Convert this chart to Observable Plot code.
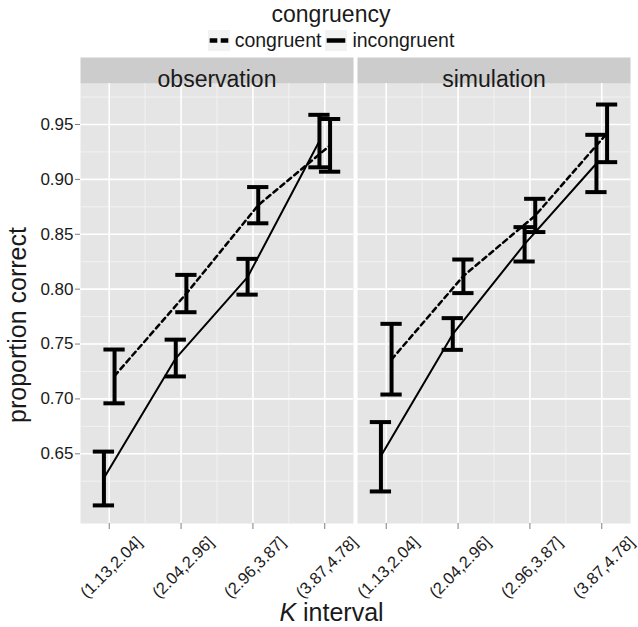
<!DOCTYPE html>
<html>
<head>
<meta charset="utf-8">
<script src="https://cdn.jsdelivr.net/npm/d3@7"></script>
<script src="https://cdn.jsdelivr.net/npm/@observablehq/plot@0.6"></script>
<style>
  html, body { margin: 0; padding: 0; background: white; }
  body { width: 638px; font-family: 'Liberation Sans', Arial, sans-serif; color: #1a1a1a; }
  #legend { position: relative; width: 638px; height: 50px; }
  #legend .title { position: absolute; left: 0; width: 662px; top: 2px; text-align: center; font-size: 23px; line-height: 24px; }
  #legend .row { position: absolute; left: 0; width: 662px; top: 29px; height: 22px; display: flex; justify-content: center; align-items: center; font-size: 19.5px; }
  #legend .row svg { display: block; }
  #chart svg { display: block; }
</style>
</head>
<body>
<div id="legend"></div>
<div id="chart"></div>
<script>
// ---- data ----
const intervals = ["(1.13,2.04]", "(2.04,2.96]", "(2.96,3.87]", "(3.87,4.78]"];
const panels = ["observation", "simulation"];
const groups = ["congruent", "incongruent"];

// observation
const obsCongMean = [0.721, 0.796, 0.8765, 0.931];
const obsCongLow  = [0.696, 0.779, 0.860, 0.907];
const obsCongHigh = [0.745, 0.813, 0.893, 0.955];
const obsIncMean  = [0.628, 0.737, 0.811, 0.935];
const obsIncLow   = [0.603, 0.7205, 0.795, 0.911];
const obsIncHigh  = [0.652, 0.754, 0.8276, 0.9588];
// simulation
const simCongMean = [0.736, 0.812, 0.867, 0.942];
const simCongLow  = [0.704, 0.7964, 0.852, 0.9157];
const simCongHigh = [0.7684, 0.827, 0.8823, 0.9682];
const simIncMean  = [0.648, 0.759, 0.841, 0.9145];
const simIncLow   = [0.6157, 0.7447, 0.8252, 0.8884];
const simIncHigh  = [0.6789, 0.7736, 0.8565, 0.9406];

const yTicks = [0.65, 0.70, 0.75, 0.80, 0.85, 0.90, 0.95];

// ---- build table ----
const series = [
  ["observation", "congruent", obsCongMean, obsCongLow, obsCongHigh],
  ["observation", "incongruent", obsIncMean, obsIncLow, obsIncHigh],
  ["simulation", "congruent", simCongMean, simCongLow, simCongHigh],
  ["simulation", "incongruent", simIncMean, simIncLow, simIncHigh]
];
const rows = [];
for (const [panel, group, m, lo, hi] of series) {
  m.forEach((v, k) => rows.push({panel, group, i: k + 1, label: intervals[k], mean: v, low: lo[k], high: hi[k]}));
}
const labelRows = [];
for (const panel of panels) intervals.forEach((lab, k) => labelRows.push({panel, i: k + 1, label: lab}));

const dodge = {congruent: 0.074, incongruent: -0.074};
const xPos = d => d.i + dodge[d.group];
const capHalf = 0.148;
const dashes = {congruent: "5,4", incongruent: null};

const xMajor = intervals.map((_, k) => k + 1);
const xMinor = xMajor.slice(1).map(v => v - 0.5);
const yMinor = yTicks.map(v => v - 0.025).concat([yTicks[yTicks.length - 1] + 0.025]);

const chart = Plot.plot({
  width: 638,
  height: 577,
  marginTop: 33,
  marginBottom: 104,
  marginLeft: 80,
  marginRight: 7.3,
  style: {fontFamily: "'Liberation Sans', Arial, sans-serif", background: "white", color: "#1a1a1a"},
  fx: {domain: panels, paddingInner: 0.0144, paddingOuter: 0, axis: null, label: null},
  x: {domain: [0.6, 4.4], axis: null},
  y: {domain: [0.58651, 0.98735], axis: null},
  marks: [
    Plot.frame({fill: "#e5e5e5", stroke: null}),
    Plot.frame({fill: "#cccccc", stroke: null, insetTop: -26, insetBottom: 440}),
    Plot.gridY(yMinor, {stroke: "#f2f2f2", strokeOpacity: 1, strokeWidth: 1}),
    Plot.gridX(xMinor, {stroke: "#f2f2f2", strokeOpacity: 1, strokeWidth: 1}),
    Plot.gridY(yTicks, {stroke: "white", strokeOpacity: 1, strokeWidth: 1.6}),
    Plot.gridX(xMajor, {stroke: "white", strokeOpacity: 1, strokeWidth: 1.6}),
    Plot.axisY(yTicks, {tickFormat: d3.format(".2f"), tickSize: 5, tickPadding: 2, fontSize: 17, stroke: "#7f7f7f", fill: "#1a1a1a", label: null}),
    Plot.axisX(xMajor, {tickFormat: () => "", tickSize: 6, stroke: "#7f7f7f", label: null}),
    Plot.text(panels, {fx: d => d, text: d => d, frameAnchor: "top", dy: -13, fontSize: 23, fill: "#1a1a1a"}),
    Plot.text(labelRows, {fx: "panel", x: "i", text: "label", frameAnchor: "bottom", dy: 44, dx: 2, rotate: -45, textAnchor: "middle", lineAnchor: "middle", fontSize: 16.5, fill: "#1a1a1a"}),
    Plot.line(rows.filter(d => d.group === "incongruent"), {fx: "panel", x: xPos, y: "mean", stroke: "black", strokeWidth: 2}),
    Plot.line(rows.filter(d => d.group === "congruent"), {fx: "panel", x: xPos, y: "mean", stroke: "black", strokeWidth: 2.5, strokeDasharray: dashes.congruent}),
    Plot.ruleX(rows, {fx: "panel", x: xPos, y1: "low", y2: "high", stroke: "black", strokeWidth: 4}),
    Plot.ruleY(rows, {fx: "panel", y: "low", x1: d => xPos(d) - capHalf, x2: d => xPos(d) + capHalf, stroke: "black", strokeWidth: 4}),
    Plot.ruleY(rows, {fx: "panel", y: "high", x1: d => xPos(d) - capHalf, x2: d => xPos(d) + capHalf, stroke: "black", strokeWidth: 4})
  ]
});

// axis titles
const svg = d3.select(chart);
svg.append("text")
  .attr("transform", "translate(26,275) rotate(-90)")
  .attr("text-anchor", "middle")
  .attr("font-size", 25)
  .attr("fill", "#1a1a1a")
  .text("proportion correct");
const xt = svg.append("text")
  .attr("x", 331.5).attr("y", 571)
  .attr("text-anchor", "middle")
  .attr("font-size", 25)
  .attr("fill", "#1a1a1a");
xt.append("tspan").attr("font-style", "italic").text("K");
xt.append("tspan").text(" interval");

document.getElementById("chart").appendChild(chart);

// legend
const legend = d3.select("#legend");
legend.append("div").attr("class", "title").text("congruency");
const row = legend.append("div").attr("class", "row");
groups.forEach((g, k) => {
  const key = row.append("svg").attr("width", 22).attr("height", 21)
    .style("margin-left", k === 0 ? "0px" : "4px");
  key.append("rect").attr("width", 22).attr("height", 21).attr("fill", "#f2f2f2");
  key.append("line").attr("x1", 1.7).attr("x2", 20.3).attr("y1", 10.5).attr("y2", 10.5)
    .attr("stroke", "black").attr("stroke-width", 4.5)
    .attr("stroke-dasharray", dashes[g] ? "7.6,3.4" : null);
  row.append("span").style("margin-left", "5px").text(g);
});
</script>
</body>
</html>
